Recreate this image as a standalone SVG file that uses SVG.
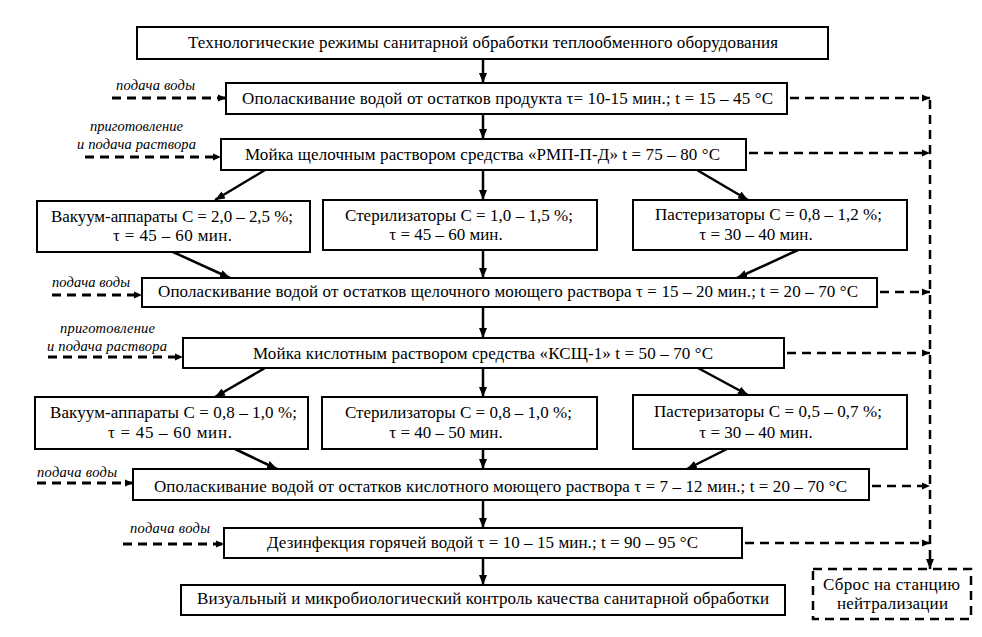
<svg xmlns="http://www.w3.org/2000/svg" width="982" height="637" viewBox="0 0 982 637">
<defs>
<marker id="ah" markerWidth="10" markerHeight="8" refX="10" refY="4" orient="auto" markerUnits="userSpaceOnUse"><path d="M0,0 L10,4 L0,8 z" fill="#000"/></marker>
<marker id="dh" markerWidth="8" markerHeight="8" refX="8" refY="4" orient="auto" markerUnits="userSpaceOnUse"><path d="M0,0.5 L8,4 L0,7.5 z" fill="#000"/></marker>
</defs>
<rect width="982" height="637" fill="#fff"/>

<g id="connectors" stroke="#000" fill="none">
<g stroke-width="2.5" marker-end="url(#ah)">
<line x1="483" y1="59" x2="483" y2="83"/>
<line x1="483" y1="114" x2="483" y2="139"/>
<line x1="483" y1="170" x2="483" y2="200"/>
<line x1="265" y1="170" x2="215" y2="200"/>
<line x1="697" y1="170" x2="748" y2="200"/>
<line x1="173" y1="252" x2="230" y2="278"/>
<line x1="483" y1="250" x2="483" y2="278"/>
<line x1="798" y1="250" x2="737" y2="278"/>
<line x1="483" y1="307" x2="483" y2="338"/>
<line x1="265" y1="368" x2="215" y2="397"/>
<line x1="483" y1="368" x2="483" y2="397"/>
<line x1="698" y1="368" x2="748" y2="395"/>
<line x1="235" y1="449" x2="277" y2="469"/>
<line x1="483" y1="449" x2="483" y2="469"/>
<line x1="727" y1="449" x2="687" y2="469"/>
<line x1="483" y1="500" x2="483" y2="528"/>
<line x1="483" y1="558" x2="483" y2="585"/>
<line x1="930" y1="560" x2="930" y2="569"/>
</g>
<g stroke-width="3" stroke-dasharray="9 6" marker-end="url(#dh)">
<line x1="112" y1="98" x2="226" y2="98"/>
<line x1="85" y1="157" x2="221" y2="157"/>
<line x1="52" y1="295" x2="142" y2="295"/>
<line x1="48" y1="357" x2="183" y2="357"/>
<line x1="37" y1="483" x2="133" y2="483"/>
<line x1="123" y1="544" x2="224" y2="544"/>
</g>
<g stroke-width="2.5" stroke-dasharray="9 6" marker-end="url(#dh)">
<line x1="790" y1="98" x2="930" y2="98"/>
<line x1="749" y1="153" x2="930" y2="153"/>
<line x1="880" y1="292" x2="930" y2="292"/>
<line x1="787" y1="353" x2="930" y2="353"/>
<line x1="872" y1="486" x2="930" y2="486"/>
<line x1="745" y1="543" x2="930" y2="543"/>
</g>
<line x1="930" y1="100" x2="930" y2="562" stroke-width="2.5" stroke-dasharray="9 6"/>
</g>

<g font-family="Liberation Serif" font-size="17" text-anchor="middle" fill="#000">
<g id="n-title"><rect x="137" y="27" width="691" height="32" fill="#fff" stroke="#000" stroke-width="2"/>
<text style="font-family:'Liberation Serif',serif" x="483" y="48" textLength="590" lengthAdjust="spacing">Технологические режимы санитарной обработки теплообменного оборудования</text></g>

<g id="n-rinse1"><rect x="226" y="83" width="561" height="31" fill="#fff" stroke="#000" stroke-width="2"/>
<text style="font-family:'Liberation Serif',serif" x="507.5" y="104" textLength="531" lengthAdjust="spacing">Ополаскивание водой от остатков продукта τ= 10-15 мин.; t = 15 – 45 °С</text></g>

<g id="n-alkali"><rect x="221" y="139" width="525" height="31" fill="#fff" stroke="#000" stroke-width="2"/>
<text style="font-family:'Liberation Serif',serif" x="482.5" y="160" textLength="475" lengthAdjust="spacing">Мойка щелочным раствором средства «РМП-П-Д» t = 75 – 80 °С</text></g>

<g id="n-vac1"><rect x="37" y="201" width="273" height="51" fill="#fff" stroke="#000" stroke-width="2"/>
<text style="font-family:'Liberation Serif',serif" x="172" y="222" textLength="242" lengthAdjust="spacing">Вакуум-аппараты С = 2,0 – 2,5 %;</text>
<text style="font-family:'Liberation Serif',serif" x="172.5" y="241" textLength="119" lengthAdjust="spacing">τ = 45 – 60 мин.</text></g>

<g id="n-ster1"><rect x="323" y="200" width="274" height="50" fill="#fff" stroke="#000" stroke-width="2"/>
<text style="font-family:'Liberation Serif',serif" x="459" y="221" textLength="228" lengthAdjust="spacing">Стерилизаторы С = 1,0 – 1,5 %;</text>
<text style="font-family:'Liberation Serif',serif" x="446" y="240">τ = 45 – 60 мин.</text></g>

<g id="n-past1"><rect x="633" y="200" width="274" height="50" fill="#fff" stroke="#000" stroke-width="2"/>
<text style="font-family:'Liberation Serif',serif" x="768.5" y="220" textLength="227" lengthAdjust="spacing">Пастеризаторы С = 0,8 – 1,2 %;</text>
<text style="font-family:'Liberation Serif',serif" x="756" y="240">τ = 30 – 40 мин.</text></g>

<g id="n-rinse2"><rect x="142" y="278" width="735" height="29" fill="#fff" stroke="#000" stroke-width="2"/>
<text style="font-family:'Liberation Serif',serif" x="508" y="297" textLength="700" lengthAdjust="spacing">Ополаскивание водой от остатков щелочного моющего раствора τ = 15 – 20 мин.; t = 20 – 70 °С</text></g>

<g id="n-acid"><rect x="183" y="338" width="601" height="30" fill="#fff" stroke="#000" stroke-width="2"/>
<text style="font-family:'Liberation Serif',serif" x="483" y="359" textLength="460" lengthAdjust="spacing">Мойка кислотным раствором средства «КСЩ-1» t = 50 – 70 °С</text></g>

<g id="n-vac2"><rect x="35" y="397" width="273" height="52" fill="#fff" stroke="#000" stroke-width="2"/>
<text style="font-family:'Liberation Serif',serif" x="173.5" y="418" textLength="247" lengthAdjust="spacing">Вакуум-аппараты С = 0,8 – 1,0 %;</text>
<text style="font-family:'Liberation Serif',serif" x="170" y="438" textLength="124" lengthAdjust="spacing">τ = 45 – 60 мин.</text></g>

<g id="n-ster2"><rect x="322" y="397" width="275" height="52" fill="#fff" stroke="#000" stroke-width="2"/>
<text style="font-family:'Liberation Serif',serif" x="458.5" y="418" textLength="227" lengthAdjust="spacing">Стерилизаторы С = 0,8 – 1,0 %;</text>
<text style="font-family:'Liberation Serif',serif" x="446" y="438">τ = 40 – 50 мин.</text></g>

<g id="n-past2"><rect x="633" y="395" width="274" height="54" fill="#fff" stroke="#000" stroke-width="2"/>
<text style="font-family:'Liberation Serif',serif" x="768" y="417" textLength="228" lengthAdjust="spacing">Пастеризаторы С = 0,5 – 0,7 %;</text>
<text style="font-family:'Liberation Serif',serif" x="756" y="438">τ = 30 – 40 мин.</text></g>

<g id="n-rinse3"><rect x="133" y="469" width="736" height="31" fill="#fff" stroke="#000" stroke-width="2"/>
<text style="font-family:'Liberation Serif',serif" x="500.5" y="492" textLength="693" lengthAdjust="spacing">Ополаскивание водой от остатков кислотного моющего раствора τ = 7 – 12 мин.; t = 20 – 70 °С</text></g>

<g id="n-disinf"><rect x="224" y="528" width="518" height="30" fill="#fff" stroke="#000" stroke-width="2"/>
<text style="font-family:'Liberation Serif',serif" x="482.5" y="548" textLength="431" lengthAdjust="spacing">Дезинфекция горячей водой τ = 10 – 15 мин.; t = 90 – 95 °С</text></g>

<g id="n-final"><rect x="181" y="585" width="604" height="30" fill="#fff" stroke="#000" stroke-width="2"/>
<text style="font-family:'Liberation Serif',serif" x="483" y="604" textLength="572" lengthAdjust="spacing">Визуальный и микробиологический контроль качества санитарной обработки</text></g>

<g id="n-neutral"><rect x="813" y="569" width="158" height="50" fill="#fff" stroke="#000" stroke-width="2.5" stroke-dasharray="9 6"/>
<text style="font-family:'Liberation Serif',serif" x="891.5" y="590" textLength="137" lengthAdjust="spacing">Сброс на станцию</text>
<text style="font-family:'Liberation Serif',serif" x="892.5" y="609" textLength="111" lengthAdjust="spacing">нейтрализации</text></g>

<g id="labels" font-size="14.5" font-style="italic">
<text style="font-family:'Liberation Serif',serif" x="155.5" y="90" textLength="79" lengthAdjust="spacing">подача воды</text>
<text style="font-family:'Liberation Serif',serif" x="136.5" y="131" textLength="93" lengthAdjust="spacing">приготовление</text>
<text style="font-family:'Liberation Serif',serif" x="136.5" y="149" textLength="119" lengthAdjust="spacing">и подача раствора</text>
<text style="font-family:'Liberation Serif',serif" x="91" y="287" textLength="78" lengthAdjust="spacing">подача воды</text>
<text style="font-family:'Liberation Serif',serif" x="107.5" y="333" textLength="95" lengthAdjust="spacing">приготовление</text>
<text style="font-family:'Liberation Serif',serif" x="107" y="351" textLength="120" lengthAdjust="spacing">и подача раствора</text>
<text style="font-family:'Liberation Serif',serif" x="77" y="477" textLength="80" lengthAdjust="spacing">подача воды</text>
<text style="font-family:'Liberation Serif',serif" x="170" y="533" textLength="80" lengthAdjust="spacing">подача воды</text>
</g>
</g>
</svg>
